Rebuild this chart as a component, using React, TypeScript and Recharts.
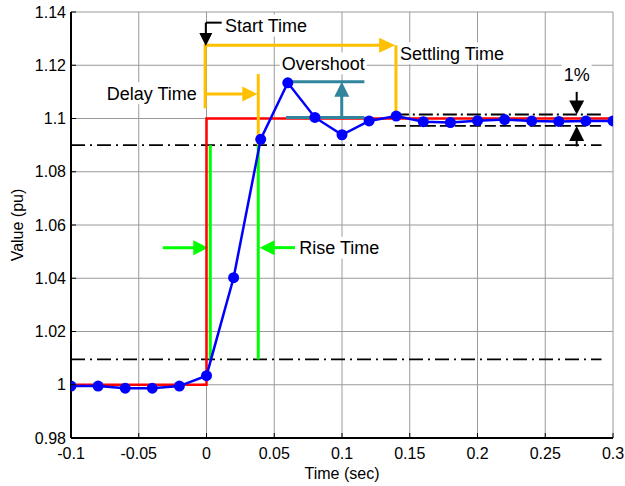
import React from 'react';
import { ComposedChart, Line, XAxis, YAxis, CartesianGrid, ReferenceLine, ReferenceDot } from 'recharts';

const FONT = "'Liberation Sans', Arial, Helvetica, sans-serif";

// sampled response (blue) and reference step (red)
const times = [-0.1, -0.08, -0.06, -0.04, -0.02, 0, 0.02, 0.04, 0.06, 0.08, 0.1, 0.12, 0.14, 0.16, 0.18, 0.2, 0.22, 0.24, 0.26, 0.28, 0.3];
const values = [0.9995, 0.9995, 0.9987, 0.9987, 0.9995, 1.0034, 1.0402, 1.0922, 1.1134, 1.1004, 1.0939, 1.0991, 1.1009, 1.0988, 1.0985, 1.0992, 1.0996, 1.0991, 1.0989, 1.0991, 1.0991];
const stepTimes = [-0.1, 0, 0.3];
const stepValues = [1.0, 1.1, 1.1];

const xTicks = [-0.1, -0.05, 0, 0.05, 0.1, 0.15, 0.2, 0.25, 0.3];
const yTicks = [0.98, 1, 1.02, 1.04, 1.06, 1.08, 1.1, 1.12, 1.14];

// annotation levels / times
const riseLow = 1.0095;
const riseHigh = 1.09;
const bandHigh = 1.1015;
const bandLow = 1.0972;
const lineEnd = 0.2915;
const settleT = 0.1398;
const riseStartT = 0.0028;
const riseEndT = 0.0382;
const topBracketY = 1.1275;

const series = times.map((t, i) => ({ x: t, y: values[i] }));
const stepSeries = stepTimes.map((t, i) => ({ x: t, y: stepValues[i] }));

const ORANGE = '#FFC000';
const TEAL = '#31859C';
const GREEN = '#00FF00';
const TICK_LEN = 5;

const fmt = (v: number) => String(Number(v.toFixed(2)));

// MATLAB style ticks: short marks inside the box
const BottomTick = (p: any) => (
  <g>
    <line x1={p.x} x2={p.x} y1={p.y - 10} y2={p.y - 10 - TICK_LEN} stroke="#000" />
    <text x={p.x} y={p.y} dy="0.71em" textAnchor="middle" fontSize={16} fontFamily={FONT} fill="#000">
      {fmt(p.payload.value)}
    </text>
  </g>
);
const LeftTick = (p: any) => (
  <g>
    <line y1={p.y} y2={p.y} x1={p.x + 5} x2={p.x + 5 + TICK_LEN} stroke="#000" />
    <text x={p.x} y={p.y} dy="0.355em" textAnchor="end" fontSize={16} fontFamily={FONT} fill="#000">
      {fmt(p.payload.value)}
    </text>
  </g>
);
const TopTick = (p: any) => <line x1={p.x} x2={p.x} y1={p.y} y2={p.y + TICK_LEN} stroke="#000" />;
const RightTick = (p: any) => <line y1={p.y} y2={p.y} x1={p.x} x2={p.x - TICK_LEN} stroke="#000" />;

const arrow = (color: string, width: number, head: number, headW: number) => (p: any) => {
  const { x1, y1, x2, y2 } = p;
  const dx = x2 - x1;
  const dy = y2 - y1;
  const len = Math.hypot(dx, dy) || 1;
  const ux = dx / len;
  const uy = dy / len;
  const bx = x2 - ux * head;
  const by = y2 - uy * head;
  const hw = headW / 2;
  const pts = `${x2},${y2} ${bx - uy * hw},${by + ux * hw} ${bx + uy * hw},${by - ux * hw}`;
  return (
    <g>
      <line x1={x1} y1={y1} x2={x2 - ux * head * 0.6} y2={y2 - uy * head * 0.6} stroke={color} strokeWidth={width} />
      <polygon points={pts} fill={color} />
    </g>
  );
};

const boxLabel = (text: string, anchor: 'start' | 'end' | 'middle', w: number) => (p: any) => {
  const { cx, cy } = p;
  const x0 = anchor === 'start' ? cx : anchor === 'end' ? cx - w : cx - w / 2;
  return (
    <g>
      <rect x={x0 - 2} y={cy - 11} width={w + 4} height={22} fill="#fff" />
      <text x={cx} y={cy} dy="0.35em" textAnchor={anchor} fontSize={18} fontFamily={FONT} fill="#000">
        {text}
      </text>
    </g>
  );
};

const YLabel = (props: any) => {
  const vb = props.viewBox || {};
  const cx = (vb.x || 0) + 17;
  const cy = (vb.y || 0) + (vb.height || 0) / 2;
  return (
    <text x={cx} y={cy} transform={`rotate(-90, ${cx}, ${cy})`} textAnchor="middle" dy="0.35em" fontSize={16} fontFamily={FONT} fill="#000">
      Value (pu)
    </text>
  );
};

export default function App() {
  return (
    <div style={{ position: 'absolute', left: 0, top: 0, background: '#fff' }}>
      <ComposedChart width={625} height={486} margin={{ top: 12, right: 12, left: 0, bottom: 0 }}>
        <CartesianGrid stroke="#9a9a9a" strokeWidth={1} horizontalValues={yTicks} verticalValues={xTicks} />
        <XAxis
          xAxisId={0}
          type="number"
          dataKey="x"
          domain={[-0.1, 0.3]}
          ticks={xTicks}
          allowDataOverflow
          height={48}
          tickSize={0}
          tickMargin={10}
          tickLine={false}
          axisLine={{ stroke: '#000', strokeWidth: 2 }}
          tick={<BottomTick />}
          label={{ value: 'Time (sec)', position: 'insideBottom', offset: 7, fill: '#000', fontSize: 16, fontFamily: FONT }}
        />
        <XAxis
          xAxisId="top"
          orientation="top"
          type="number"
          domain={[-0.1, 0.3]}
          ticks={xTicks}
          allowDataOverflow
          height={0}
          tickSize={0}
          tickMargin={0}
          tickLine={false}
          tick={<TopTick />}
          axisLine={{ stroke: '#000', strokeWidth: 1.5 }}
        />
        <YAxis
          yAxisId={0}
          type="number"
          domain={[0.98, 1.14]}
          ticks={yTicks}
          allowDataOverflow
          width={71}
          tickSize={0}
          tickMargin={5}
          tickLine={false}
          axisLine={{ stroke: '#000', strokeWidth: 2 }}
          tick={<LeftTick />}
          label={<YLabel />}
        />
        <YAxis
          yAxisId="right"
          orientation="right"
          type="number"
          domain={[0.98, 1.14]}
          ticks={yTicks}
          allowDataOverflow
          width={0}
          tickSize={0}
          tickMargin={0}
          tickLine={false}
          tick={<RightTick />}
          axisLine={{ stroke: '#000', strokeWidth: 2 }}
        />

        {/* text boxes */}
        <ReferenceDot x={0.0137} y={1.1349} ifOverflow="visible" shape={boxLabel('Start Time', 'start', 83)} />
        <ReferenceDot x={-0.0072} y={1.1095} ifOverflow="visible" shape={boxLabel('Delay Time', 'end', 91)} />
        <ReferenceDot x={0.0555} y={1.1207} ifOverflow="visible" shape={boxLabel('Overshoot', 'start', 83)} />
        <ReferenceDot x={0.1428} y={1.1245} ifOverflow="visible" shape={boxLabel('Settling Time', 'start', 105)} />
        <ReferenceDot x={0.0685} y={1.0515} ifOverflow="visible" shape={boxLabel('Rise Time', 'start', 81)} />
        <ReferenceDot x={0.2732} y={1.1163} ifOverflow="visible" shape={boxLabel('1%', 'middle', 26)} />

        {/* 10% / 90% levels and settling band */}
        <ReferenceLine segment={[{ x: -0.1, y: riseHigh }, { x: lineEnd, y: riseHigh }]} ifOverflow="visible" stroke="#000" strokeWidth={1.8} strokeDasharray="14 5 2 5" />
        <ReferenceLine segment={[{ x: -0.1, y: riseLow }, { x: lineEnd, y: riseLow }]} ifOverflow="visible" stroke="#000" strokeWidth={1.8} strokeDasharray="14 5 2 5" />
        <ReferenceLine segment={[{ x: 0.139, y: bandHigh }, { x: lineEnd, y: bandHigh }]} ifOverflow="visible" stroke="#000" strokeWidth={1.8} strokeDasharray="14 4 2 4" />
        <ReferenceLine segment={[{ x: 0.139, y: bandLow }, { x: lineEnd, y: bandLow }]} ifOverflow="visible" stroke="#000" strokeWidth={1.8} strokeDasharray="11 4" />

        {/* rise time markers */}
        <ReferenceLine segment={[{ x: riseStartT, y: riseLow }, { x: riseStartT, y: riseHigh }]} ifOverflow="visible" stroke={GREEN} strokeWidth={3} />
        <ReferenceLine segment={[{ x: riseEndT, y: riseLow }, { x: riseEndT, y: riseHigh }]} ifOverflow="visible" stroke={GREEN} strokeWidth={3} />
        <ReferenceLine segment={[{ x: -0.0323, y: 1.0515 }, { x: 0.0013, y: 1.0515 }]} ifOverflow="visible" shape={arrow(GREEN, 3, 15, 15)} />
        <ReferenceLine segment={[{ x: 0.0653, y: 1.0515 }, { x: 0.0392, y: 1.0515 }]} ifOverflow="visible" shape={arrow(GREEN, 3, 15, 15)} />

        {/* step reference */}
        <Line data={stepSeries} dataKey="y" type="stepAfter" stroke="#FF0000" strokeWidth={2.5} dot={false} activeDot={false} isAnimationActive={false} />

        {/* delay / settling brackets */}
        <ReferenceLine segment={[{ x: -0.001, y: topBracketY }, { x: -0.001, y: 1.1044 }]} ifOverflow="visible" stroke={ORANGE} strokeWidth={3} strokeLinecap="square" />
        <ReferenceLine segment={[{ x: -0.001, y: topBracketY }, { x: 0.1392, y: topBracketY }]} ifOverflow="visible" shape={arrow(ORANGE, 3, 16, 15)} />
        <ReferenceLine segment={[{ x: settleT, y: topBracketY }, { x: settleT, y: bandHigh }]} ifOverflow="visible" stroke={ORANGE} strokeWidth={3} />
        <ReferenceLine segment={[{ x: -0.001, y: 1.1092 }, { x: 0.0375, y: 1.1092 }]} ifOverflow="visible" shape={arrow(ORANGE, 3, 15, 15)} />
        <ReferenceLine segment={[{ x: riseEndT, y: 1.1167 }, { x: riseEndT, y: riseHigh }]} ifOverflow="visible" stroke={ORANGE} strokeWidth={3} />

        {/* overshoot */}
        <ReferenceLine segment={[{ x: 0.0587, y: 1.1138 }, { x: 0.1165, y: 1.1138 }]} ifOverflow="visible" stroke={TEAL} strokeWidth={3} />
        <ReferenceLine segment={[{ x: 0.0587, y: 1.1004 }, { x: 0.1165, y: 1.1004 }]} ifOverflow="visible" stroke={TEAL} strokeWidth={3} />
        <ReferenceLine segment={[{ x: 0.0998, y: 1.1004 }, { x: 0.0998, y: 1.1138 }]} ifOverflow="visible" shape={arrow(TEAL, 3, 15, 15)} />

        {/* start time */}
        <ReferenceLine segment={[{ x: -0.0005, y: 1.136 }, { x: 0.0112, y: 1.136 }]} ifOverflow="visible" stroke="#000" strokeWidth={2} />
        <ReferenceLine segment={[{ x: -0.0005, y: 1.136 }, { x: -0.0005, y: 1.1272 }]} ifOverflow="visible" shape={arrow('#000', 2, 13, 13)} />

        {/* 1% band arrows */}
        <ReferenceLine segment={[{ x: 0.2732, y: 1.11 }, { x: 0.2732, y: bandHigh }]} ifOverflow="visible" shape={arrow('#000', 2, 14, 15)} />
        <ReferenceLine segment={[{ x: 0.2732, y: 1.0895 }, { x: 0.2732, y: bandLow }]} ifOverflow="visible" shape={arrow('#000', 2, 15, 15)} />

        {/* response */}
        <Line
          data={series}
          dataKey="y"
          type="linear"
          stroke="#0000FF"
          strokeWidth={2.5}
          dot={{ r: 5.5, fill: '#0000FF', stroke: '#0000FF', strokeWidth: 0 }}
          activeDot={false}
          isAnimationActive={false}
        />
      </ComposedChart>
    </div>
  );
}
